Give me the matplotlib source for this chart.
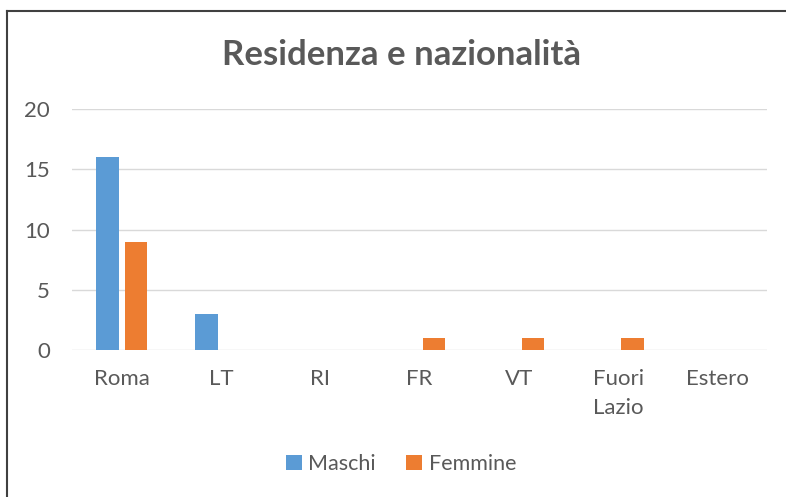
import matplotlib
matplotlib.use("Agg")
import matplotlib.pyplot as plt
import numpy as np
from matplotlib.lines import Line2D
from matplotlib.patches import Patch

categories = ["Roma", "LT", "RI", "FR", "VT", "Fuori\nLazio", "Estero"]
maschi = [16, 3, 0, 0, 0, 0, 0]
femmine = [9, 0, 0, 1, 1, 1, 0]
series_names = ["Maschi", "Femmine"]
yticks = [0, 5, 10, 15, 20]

plt.rcParams['font.family'] = ['Lato', 'DejaVu Sans']
W, H = 786, 497
fig = plt.figure(figsize=(W/100, H/100), dpi=100)
ax = fig.add_axes([72/W, (H-350)/H, (767-72)/W, (350-109.3)/H])

blue = "#5B9BD5"
orange = "#ED7D31"
txt = "#595959"
x = np.arange(len(categories))
bw = 0.227
ax.bar(x - 0.145, maschi, width=bw, color=blue, label=series_names[0], zorder=3)
ax.bar(x + 0.145, femmine, width=bw, color=orange, label=series_names[1], zorder=3)

ax.set_xlim(-0.5, len(categories) - 0.5)
ax.set_ylim(0, 20)
ax.set_yticks(yticks)
ax.set_xticks(x)
ax.set_xticklabels(categories, linespacing=1.55)
ax.grid(axis='y', color="#D9D9D9", linewidth=1.0, zorder=0)
for s in ax.spines.values():
    s.set_visible(False)
ax.tick_params(axis='both', length=0, colors=txt, labelsize=16)
ax.tick_params(axis='y', pad=16)
ax.tick_params(axis='x', pad=14)
for lab in ax.get_xticklabels():
    lab.set_verticalalignment('top')
    lab.set_horizontalalignment('center')

fig.text(401/W, 1 - 55/H, "Residenza e nazionalità", ha='center', va='center',
         fontsize=25, fontweight='bold', color=txt)

handles = [Patch(facecolor=blue, label=series_names[0]),
           Patch(facecolor=orange, label=series_names[1])]
fig.legend(handles=handles, loc='center', bbox_to_anchor=(401/W, 1 - 464/H),
           ncol=2, frameon=False, fontsize=15.5, labelcolor=txt,
           handlelength=0.75, handleheight=0.75, handletextpad=0.3, columnspacing=1.4)

fig.add_artist(Line2D([7/W, 7/W], [0, 1 - 11/H], color="#404040", linewidth=1.5,
                      transform=fig.transFigure))
fig.add_artist(Line2D([7/W, 1], [1 - 11/H, 1 - 11/H], color="#404040", linewidth=1.5,
                      transform=fig.transFigure))

fig.savefig("out.png", dpi=100, facecolor="white")
